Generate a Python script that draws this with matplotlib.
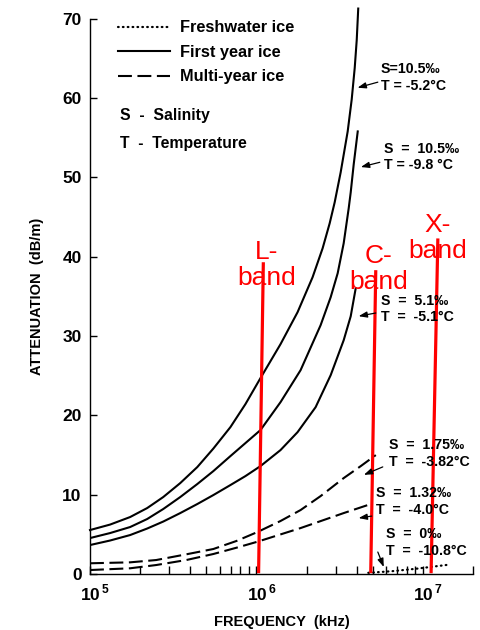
import matplotlib
matplotlib.use("Agg")
import matplotlib.pyplot as plt
import matplotlib.transforms as mtrans
import numpy as np

plt.rcParams['font.family'] = ['Liberation Sans', 'DejaVu Sans']
plt.rcParams['mathtext.fontset'] = 'custom'
plt.rcParams['mathtext.rm'] = 'Liberation Sans'
plt.rcParams['mathtext.bf'] = 'Liberation Sans:bold'
plt.rcParams['lines.scale_dashes'] = False

# ---- data (frequency in kHz, attenuation in dB/m) ----
fy1_freq = [1.000e5, 1.320e5, 1.742e5, 2.205e5, 2.754e5, 3.485e5, 4.412e5, 5.508e5, 6.973e5,
            8.584e5, 1.057e6, 1.395e6, 1.766e6, 2.174e6, 2.498e6, 2.754e6, 2.951e6, 3.206e6,
            3.533e6, 3.735e6, 3.894e6, 4.004e6, 4.060e6, 4.088e6]
fy1_att = [5.54, 6.23, 7.18, 8.31, 9.70, 11.46, 13.48, 15.81, 18.51,
           21.41, 24.69, 28.97, 33.00, 37.41, 41.06, 44.21, 46.85, 50.63,
           55.79, 59.82, 63.79, 67.32, 69.96, 71.28]

fy2_freq = [1.000e5, 1.320e5, 1.742e5, 2.205e5, 2.754e5, 3.485e5, 4.412e5, 5.508e5, 6.973e5,
            8.584e5, 1.057e6, 1.395e6, 1.841e6, 2.429e6, 2.792e6, 3.076e6, 3.343e6, 3.583e6,
            3.684e6, 3.840e6, 4.060e6]
fy2_att = [4.53, 5.16, 5.92, 6.93, 8.19, 9.70, 11.34, 12.97, 14.86,
           16.50, 18.14, 21.66, 25.69, 31.36, 34.89, 37.91, 41.69, 46.10,
           48.11, 51.64, 55.79]

fy3_freq = [1.000e5, 1.320e5, 1.742e5, 2.205e5, 2.754e5, 3.485e5, 4.412e5, 5.508e5, 6.973e5,
            8.584e5, 1.057e6, 1.395e6, 1.766e6, 2.267e6, 2.792e6, 3.343e6, 3.684e6, 3.948e6]
fy3_att = [3.65, 4.22, 4.91, 5.73, 6.61, 7.68, 8.82, 9.95, 11.21,
           12.34, 13.60, 15.62, 17.88, 21.03, 25.06, 29.47, 32.49, 36.02]

my1_freq = [1.000e5, 1.742e5, 2.498e5, 3.787e5, 5.508e5, 7.576e5, 1.014e6, 1.395e6, 1.841e6,
            2.429e6, 3.343e6, 4.233e6, 5.212e6]
my1_att = [1.35, 1.47, 1.76, 2.48, 3.15, 4.16, 5.29, 6.68, 8.06, 9.82, 12.09, 13.60, 14.99]

my2_freq = [1.000e5, 1.742e5, 2.498e5, 3.787e5, 5.508e5, 7.576e5, 1.014e6, 1.841e6, 3.343e6, 4.664e6]
my2_att = [0.50, 0.72, 1.13, 1.76, 2.52, 3.31, 4.07, 5.79, 7.68, 8.69]

fw_freq = [4.7e6, 6.5e6, 9.0e6, 1.4e7]
fw_att = [0.15, 0.35, 0.65, 1.15]

legend_labels = ['Freshwater ice', 'First year ice', 'Multi-year ice']

# annotations: text, text position, arrow start, arrow end
ann_texts = ['S=10.5\u2030\nT = -5.2\u00b0C',
             'S  =  10.5\u2030\nT = -9.8 \u00b0C',
             'S  =  5.1\u2030\nT  =  -5.1\u00b0C',
             'S  =  1.75\u2030\nT  =  -3.82\u00b0C',
             'S  =  1.32\u2030\nT  =  -4.0\u00b0C',
             'S  =  0\u2030\nT  =  -10.8\u00b0C']
ann_text_xy = [(5.58e6, 62.6), (5.82e6, 52.6), (5.58e6, 33.4), (6.24e6, 15.2), (5.21e6, 9.13), (5.98e6, 3.97)]
ann_arrow_from = [(5.36e6, 62.0), (5.51e6, 51.9), (5.21e6, 32.9), (5.74e6, 13.5), (4.93e6, 7.3), (5.36e6, 2.77)]
ann_arrow_to = [(4.05e6, 61.3), (4.24e6, 51.3), (4.11e6, 32.5), (4.42e6, 12.5), (4.11e6, 7.05), (5.82e6, 0.88)]

# band markers (red): label, label position, line top, line bottom
band_labels = ['L-\nband', 'C-\nband', 'X-\nband']
band_label_xy = [(1.15e6, 39.0), (5.43e6, 38.5), (1.23e7, 42.3)]
band_top = [(1.10e6, 39.3), (5.21e6, 38.3), (1.23e7, 42.3)]
band_bottom = [(1.03e6, 0.1), (4.86e6, 0.1), (1.12e7, 0.1)]

x_ticks = [1e5, 1e6, 1e7]
x_ticklabels = [r'$\mathbf{10}^{\,\mathbf{5}}$', r'$\mathbf{10}^{\,\mathbf{6}}$', r'$\mathbf{10}^{\,\mathbf{7}}$']
y_ticks = [0, 10, 20, 30, 40, 50, 60, 70]

# ---- figure ----
fig = plt.figure(figsize=(4.81, 6.30), dpi=100)
ax = fig.add_axes([90/481, 1-574/630, 383/481, (574-18.7)/630])

lw = 1.5
fw_line, = ax.plot(fw_freq, fw_att, color='black', lw=1.6, linestyle=(0, (0.5, 3.0)),
                   dash_capstyle='round', label=legend_labels[0])
fy_line, = ax.plot(fy1_freq, fy1_att, color='black', lw=lw, label=legend_labels[1], clip_on=False)
ax.plot(fy2_freq, fy2_att, color='black', lw=lw)
ax.plot(fy3_freq, fy3_att, color='black', lw=lw)
my_line, = ax.plot(my1_freq, my1_att, color='black', lw=lw, linestyle=(0, (10, 4)), label=legend_labels[2])
ax.plot(my2_freq, my2_att, color='black', lw=lw, linestyle=(0, (10, 4)))

ax.set_xscale('log')
ax.set_xlim(1e5, 2e7)
ax.set_ylim(0, 70)

for s in ['top', 'right']:
    ax.spines[s].set_visible(False)
for s in ['left', 'bottom']:
    ax.spines[s].set_linewidth(1.0)

ax.set_yticks(y_ticks)
ax.set_yticklabels([str(v) for v in y_ticks], fontsize=12.5, fontweight='bold')
ax.set_xticks(x_ticks)
ax.set_xticklabels(x_ticklabels, fontsize=12.5)
ax.xaxis.set_minor_locator(matplotlib.ticker.LogLocator(base=10, subs=np.arange(2, 10), numticks=20))
ax.xaxis.set_minor_formatter(matplotlib.ticker.NullFormatter())
ax.tick_params(axis='y', direction='in', length=5, width=1, pad=6)
ax.tick_params(axis='x', which='major', direction='in', length=6, width=1, pad=6)
ax.tick_params(axis='x', which='minor', direction='in', length=6, width=1)
shift = mtrans.ScaledTranslation(5/100, 0, fig.dpi_scale_trans)
for lab in ax.get_xticklabels():
    lab.set_transform(lab.get_transform() + shift)

ax.set_xlabel('FREQUENCY  (kHz)', fontsize=10.5, fontweight='bold', labelpad=9)
ax.set_ylabel('ATTENUATION  (dB/m)', fontsize=10.5, fontweight='bold', labelpad=13)

leg = ax.legend(handles=[fw_line, fy_line, my_line], loc='upper left',
                bbox_to_anchor=(0.073, 0.997), frameon=False, borderpad=0, borderaxespad=0,
                handlelength=3.2, handletextpad=0.6, labelspacing=0.58,
                prop={'size': 11.8, 'weight': 'bold'})

ax.text(0.078, 0.826, 'S  -  Salinity', transform=ax.transAxes, fontsize=11.3,
        fontweight='bold', va='center', ha='left')
ax.text(0.078, 0.776, 'T  -  Temperature', transform=ax.transAxes, fontsize=11.3,
        fontweight='bold', va='center', ha='left')

for t, txy, a0, a1 in zip(ann_texts, ann_text_xy, ann_arrow_from, ann_arrow_to):
    ax.text(txy[0], txy[1], t, fontsize=10.2, fontweight='bold', ha='left', va='center',
            linespacing=1.2)
    ax.annotate('', xy=a1, xytext=a0,
                arrowprops=dict(arrowstyle='-|>,head_length=0.5,head_width=0.18',
                                color='black', lw=0.9, shrinkA=0, shrinkB=0))

for lab, lxy, top, bot in zip(band_labels, band_label_xy, band_top, band_bottom):
    ax.plot([top[0], bot[0]], [top[1], bot[1]], color='#ff0000', lw=2.3, solid_capstyle='butt')
    ax.text(lxy[0], lxy[1], lab, color='#ff0000', fontsize=19, ha='center', va='center',
            linespacing=1.1)

fig.savefig('out.png', dpi=100)
